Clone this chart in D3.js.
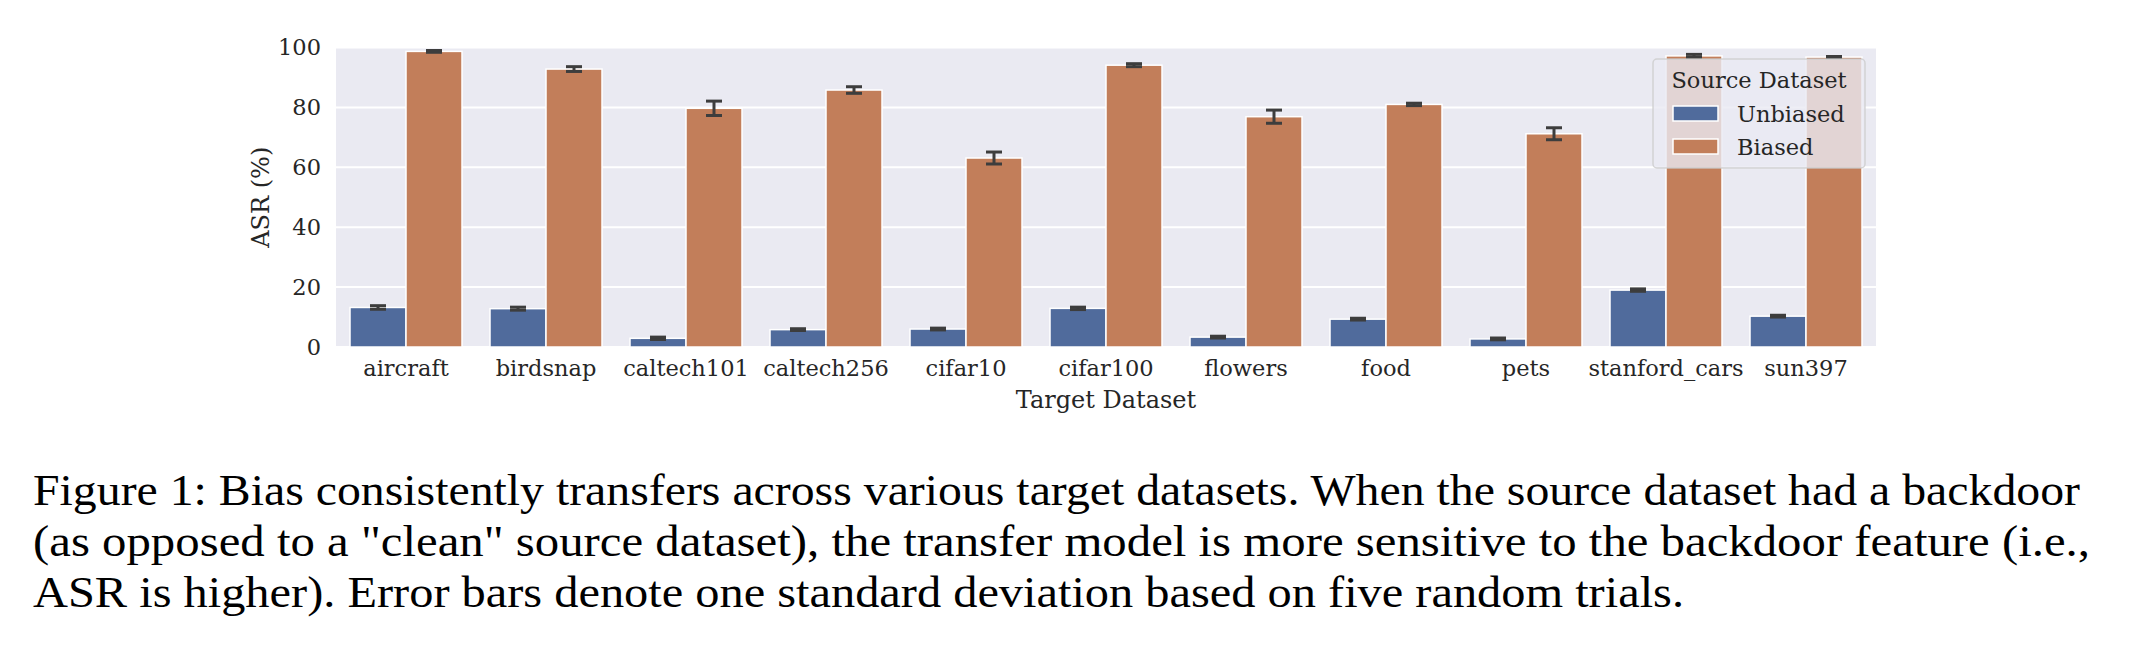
<!DOCTYPE html>
<html>
<head>
<meta charset="utf-8">
<script src="https://cdn.jsdelivr.net/npm/d3@7"></script>
<style>
  body { margin: 0; background: #ffffff; }
  svg { display: block; }
</style>
</head>
<body>
<div id="chart"></div>
<script>
// data
const categories = ["aircraft", "birdsnap", "caltech101", "caltech256", "cifar10", "cifar100", "flowers", "food", "pets", "stanford_cars", "sun397"]
const seriesNames = ["Unbiased", "Biased"]
const unbiased   = [13.2, 12.8, 2.9, 5.8, 6.0, 12.9, 3.3, 9.3, 2.7, 19.0, 10.3]
const unbiasedSd = [0.6, 0.5, 0.4, 0.3, 0.3, 0.4, 0.3, 0.3, 0.3, 0.4, 0.3]
const biased     = [98.7, 92.8, 79.7, 85.8, 63.1, 94.1, 76.9, 81.0, 71.2, 97.2, 96.8]
const biasedSd   = [0.3, 0.8, 2.4, 1.1, 2.0, 0.5, 2.2, 0.4, 2.0, 0.5, 0.2]
const yTicks = [0, 20, 40, 60, 80, 100]
const captionLines = [
  "Figure 1: Bias consistently transfers across various target datasets. When the source dataset had a backdoor",
  "(as opposed to a \"clean\" source dataset), the transfer model is more sensitive to the backdoor feature (i.e.,",
  "ASR is higher). Error bars denote one standard deviation based on five random trials."
]

const colors = {Unbiased: "#506B9C", Biased: "#C27E5A"}
const textColor = "#262626"
const font = "'DejaVu Serif', serif"
const captionFont = "'Liberation Serif', serif"

const W = 2136, H = 650
const plot = {left: 336, right: 1876, top: 47.5, bottom: 347}

const rows = categories.map((c, i) => ([
  {cat: c, key: "Unbiased", v: unbiased[i], sd: unbiasedSd[i]},
  {cat: c, key: "Biased", v: biased[i], sd: biasedSd[i]}
])).flat()

const svg = d3.select("#chart").append("svg")
  .attr("width", W).attr("height", H)

svg.append("rect").attr("width", W).attr("height", H).attr("fill", "#ffffff")

const x = d3.scaleBand().domain(categories).range([plot.left, plot.right]).paddingInner(0).paddingOuter(0)
const xHue = d3.scaleBand().domain(seriesNames).range([x.bandwidth() * 0.1, x.bandwidth() * 0.9])
const y = d3.scaleLinear().domain([0, 100]).range([plot.bottom, plot.top])

// background + grid
svg.append("rect")
  .attr("x", plot.left).attr("y", plot.top)
  .attr("width", plot.right - plot.left).attr("height", plot.bottom - plot.top)
  .attr("fill", "#EAEAF2")

svg.append("g")
  .selectAll("line")
  .data(yTicks)
  .join("line")
  .attr("x1", plot.left).attr("x2", plot.right)
  .attr("y1", d => y(d)).attr("y2", d => y(d))
  .attr("stroke", "#ffffff").attr("stroke-width", 2)

// y axis (labels only)
const yAxis = svg.append("g")
  .attr("transform", "translate(" + plot.left + ",0)")
  .call(d3.axisLeft(y).tickValues(yTicks).tickSize(0).tickPadding(15))
yAxis.select(".domain").remove()
yAxis.selectAll("text")
  .style("font-family", font).style("font-size", "22.5px").attr("fill", textColor)

// x axis (labels only)
const xAxis = svg.append("g")
  .attr("transform", "translate(0," + plot.bottom + ")")
  .call(d3.axisBottom(x).tickSize(0).tickPadding(13))
xAxis.select(".domain").remove()
xAxis.selectAll("text")
  .style("font-family", font).style("font-size", "22.5px").attr("fill", textColor)

// bars
svg.append("g")
  .selectAll("rect")
  .data(rows)
  .join("rect")
  .attr("x", d => x(d.cat) + xHue(d.key))
  .attr("width", xHue.bandwidth())
  .attr("y", d => y(d.v))
  .attr("height", d => y(0) - y(d.v))
  .attr("fill", d => colors[d.key])
  .attr("stroke", "#ffffff")
  .attr("stroke-width", 1.5)

// error bars
const err = svg.append("g")
  .attr("stroke", "#3D3D3D").attr("stroke-width", 3).attr("fill", "none")
const capW = 8
rows.forEach(d => {
  const cx = x(d.cat) + xHue(d.key) + xHue.bandwidth() / 2
  err.append("line").attr("x1", cx).attr("x2", cx).attr("y1", y(d.v - d.sd)).attr("y2", y(d.v + d.sd))
  err.append("line").attr("x1", cx - capW).attr("x2", cx + capW).attr("y1", y(d.v - d.sd)).attr("y2", y(d.v - d.sd))
  err.append("line").attr("x1", cx - capW).attr("x2", cx + capW).attr("y1", y(d.v + d.sd)).attr("y2", y(d.v + d.sd))
})

// axis titles
svg.append("text")
  .attr("x", (plot.left + plot.right) / 2).attr("y", 408)
  .attr("text-anchor", "middle")
  .style("font-family", font).style("font-size", "24px").attr("fill", textColor)
  .text("Target Dataset")

svg.append("text")
  .attr("transform", "translate(269," + (plot.top + plot.bottom) / 2 + ") rotate(-90)")
  .attr("text-anchor", "middle")
  .style("font-family", font).style("font-size", "24px").attr("fill", textColor)
  .text("ASR (%)")

// legend
const lg = svg.append("g").attr("transform", "translate(1653,59)")
lg.append("rect")
  .attr("width", 212).attr("height", 109).attr("rx", 4).attr("ry", 4)
  .attr("fill", "#EAEAF2").attr("fill-opacity", 0.8)
  .attr("stroke", "#CCCCCC").attr("stroke-opacity", 0.8).attr("stroke-width", 1.5)
lg.append("text")
  .attr("x", 106).attr("y", 28.5)
  .attr("text-anchor", "middle")
  .style("font-family", font).style("font-size", "22.5px").attr("fill", textColor)
  .text("Source Dataset")
const item = lg.selectAll(".item")
  .data(seriesNames)
  .join("g")
  .attr("class", "item")
  .attr("transform", (d, i) => "translate(0," + (i * 33) + ")")
item.append("rect")
  .attr("x", 20).attr("y", 47).attr("width", 45).attr("height", 15)
  .attr("fill", d => colors[d]).attr("stroke", "#ffffff").attr("stroke-width", 1.5)
item.append("text")
  .attr("x", 84).attr("y", 62.5)
  .style("font-family", font).style("font-size", "22.5px").attr("fill", textColor)
  .text(d => d)

// caption
const capY = [505, 556, 607]
const capLen = [2047, 2057, 1651]
svg.append("g")
  .selectAll("text")
  .data(captionLines)
  .join("text")
  .attr("x", 33)
  .attr("y", (d, i) => capY[i])
  .attr("textLength", (d, i) => capLen[i])
  .attr("lengthAdjust", "spacingAndGlyphs")
  .style("font-family", captionFont).style("font-size", "44px").attr("fill", "#000000")
  .text(d => d)
</script>
</body>
</html>
